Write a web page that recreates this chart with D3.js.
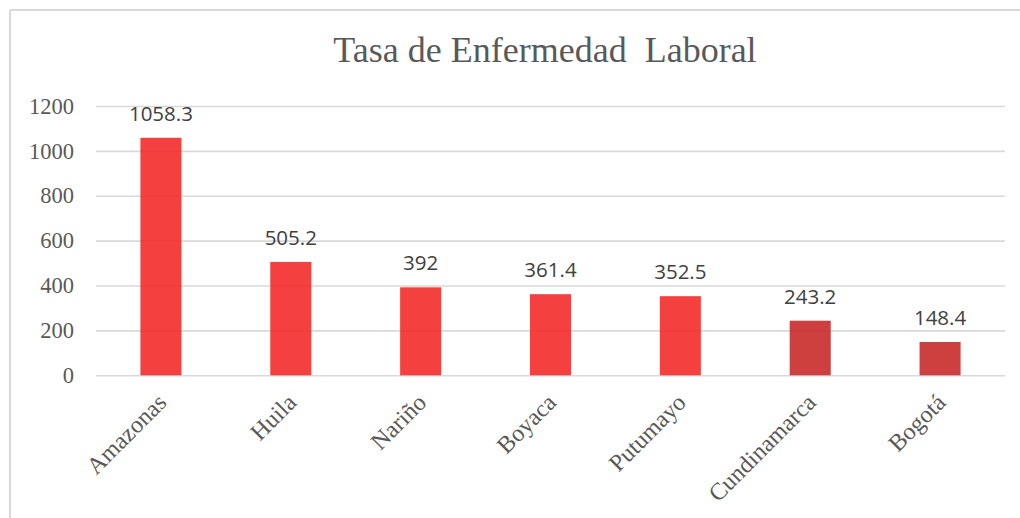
<!DOCTYPE html>
<html>
<head>
<meta charset="utf-8">
<script src="https://cdn.jsdelivr.net/npm/d3@7"></script>
<style>
  html, body { margin: 0; padding: 0; background: #fff; }
  svg { display: block; }
</style>
</head>
<body>
<svg id="chart" width="1020" height="518"></svg>
<script>
const categories = ["Amazonas", "Huila", "Nariño", "Boyaca", "Putumayo", "Cundinamarca", "Bogotá"];
const values = [1058.3, 505.2, 392, 361.4, 352.5, 243.2, 148.4];
const valueLabels = ["1058.3", "505.2", "392", "361.4", "352.5", "243.2", "148.4"];
const barColors = ["#f42626", "#f42626", "#f42626", "#f42626", "#f42626", "#c72424", "#c72424"];
const yTicks = [0, 200, 400, 600, 800, 1000, 1200];
const title = "Tasa de Enfermedad  Laboral";

const svg = d3.select("#chart");
const W = 1020, H = 518;
const plot = { left: 96, right: 1005, top: 106, bottom: 375.3 };

// frame
svg.append("line").attr("x1", 10).attr("x2", W).attr("y1", 10).attr("y2", 10)
  .attr("stroke", "#d9d9d9").attr("stroke-width", 2);
svg.append("line").attr("x1", 10).attr("x2", 10).attr("y1", 10).attr("y2", H)
  .attr("stroke", "#d9d9d9").attr("stroke-width", 2);

// title
svg.append("text").attr("x", 545).attr("y", 62).attr("text-anchor", "middle")
  .attr("font-family", "Liberation Serif, Times New Roman, serif").attr("font-size", 36)
  .attr("fill", "#595959").style("white-space", "pre").text(title);

const x = d3.scaleBand().domain(categories).range([plot.left, plot.right]).paddingInner(0.684).paddingOuter(0.342);
const y = d3.scaleLinear().domain([0, 1200]).range([plot.bottom, plot.top]);

// gridlines
const yAxis = d3.axisLeft(y).tickValues(yTicks).tickSize(-(plot.right - plot.left)).tickPadding(22).tickFormat(d3.format("d"));
const gy = svg.append("g").attr("transform", `translate(${plot.left},0)`).call(yAxis);
gy.select(".domain").remove();
gy.selectAll(".tick line").attr("stroke", "#d9d9d9").attr("stroke-width", 1.6);
gy.selectAll(".tick text").attr("font-family", "Liberation Serif, Times New Roman, serif")
  .attr("font-size", 22.5).attr("fill", "#595959");

// bars
svg.append("g").selectAll("rect").data(categories).join("rect")
  .attr("x", d => x(d))
  .attr("width", x.bandwidth())
  .attr("y", (d, i) => y(values[i]))
  .attr("height", (d, i) => y(0) - y(values[i]))
  .attr("fill", (d, i) => barColors[i])
  .attr("fill-opacity", 0.88);

// value labels
svg.append("g").selectAll("text").data(categories).join("text")
  .attr("x", d => x(d) + x.bandwidth() / 2)
  .attr("y", (d, i) => y(values[i]) - 17)
  .attr("text-anchor", "middle")
  .attr("font-family", "Open Sans, sans-serif").attr("font-size", 20.5)
  .attr("fill", "#404040")
  .text((d, i) => valueLabels[i]);

// category labels
svg.append("g").selectAll("text").data(categories).join("text")
  .attr("transform", d => `translate(${x(d) + x.bandwidth() / 2 + 7},404) rotate(-45)`)
  .attr("text-anchor", "end")
  .attr("font-family", "Liberation Serif, Times New Roman, serif").attr("font-size", 24)
  .attr("fill", "#595959")
  .text(d => d);
</script>
</body>
</html>
